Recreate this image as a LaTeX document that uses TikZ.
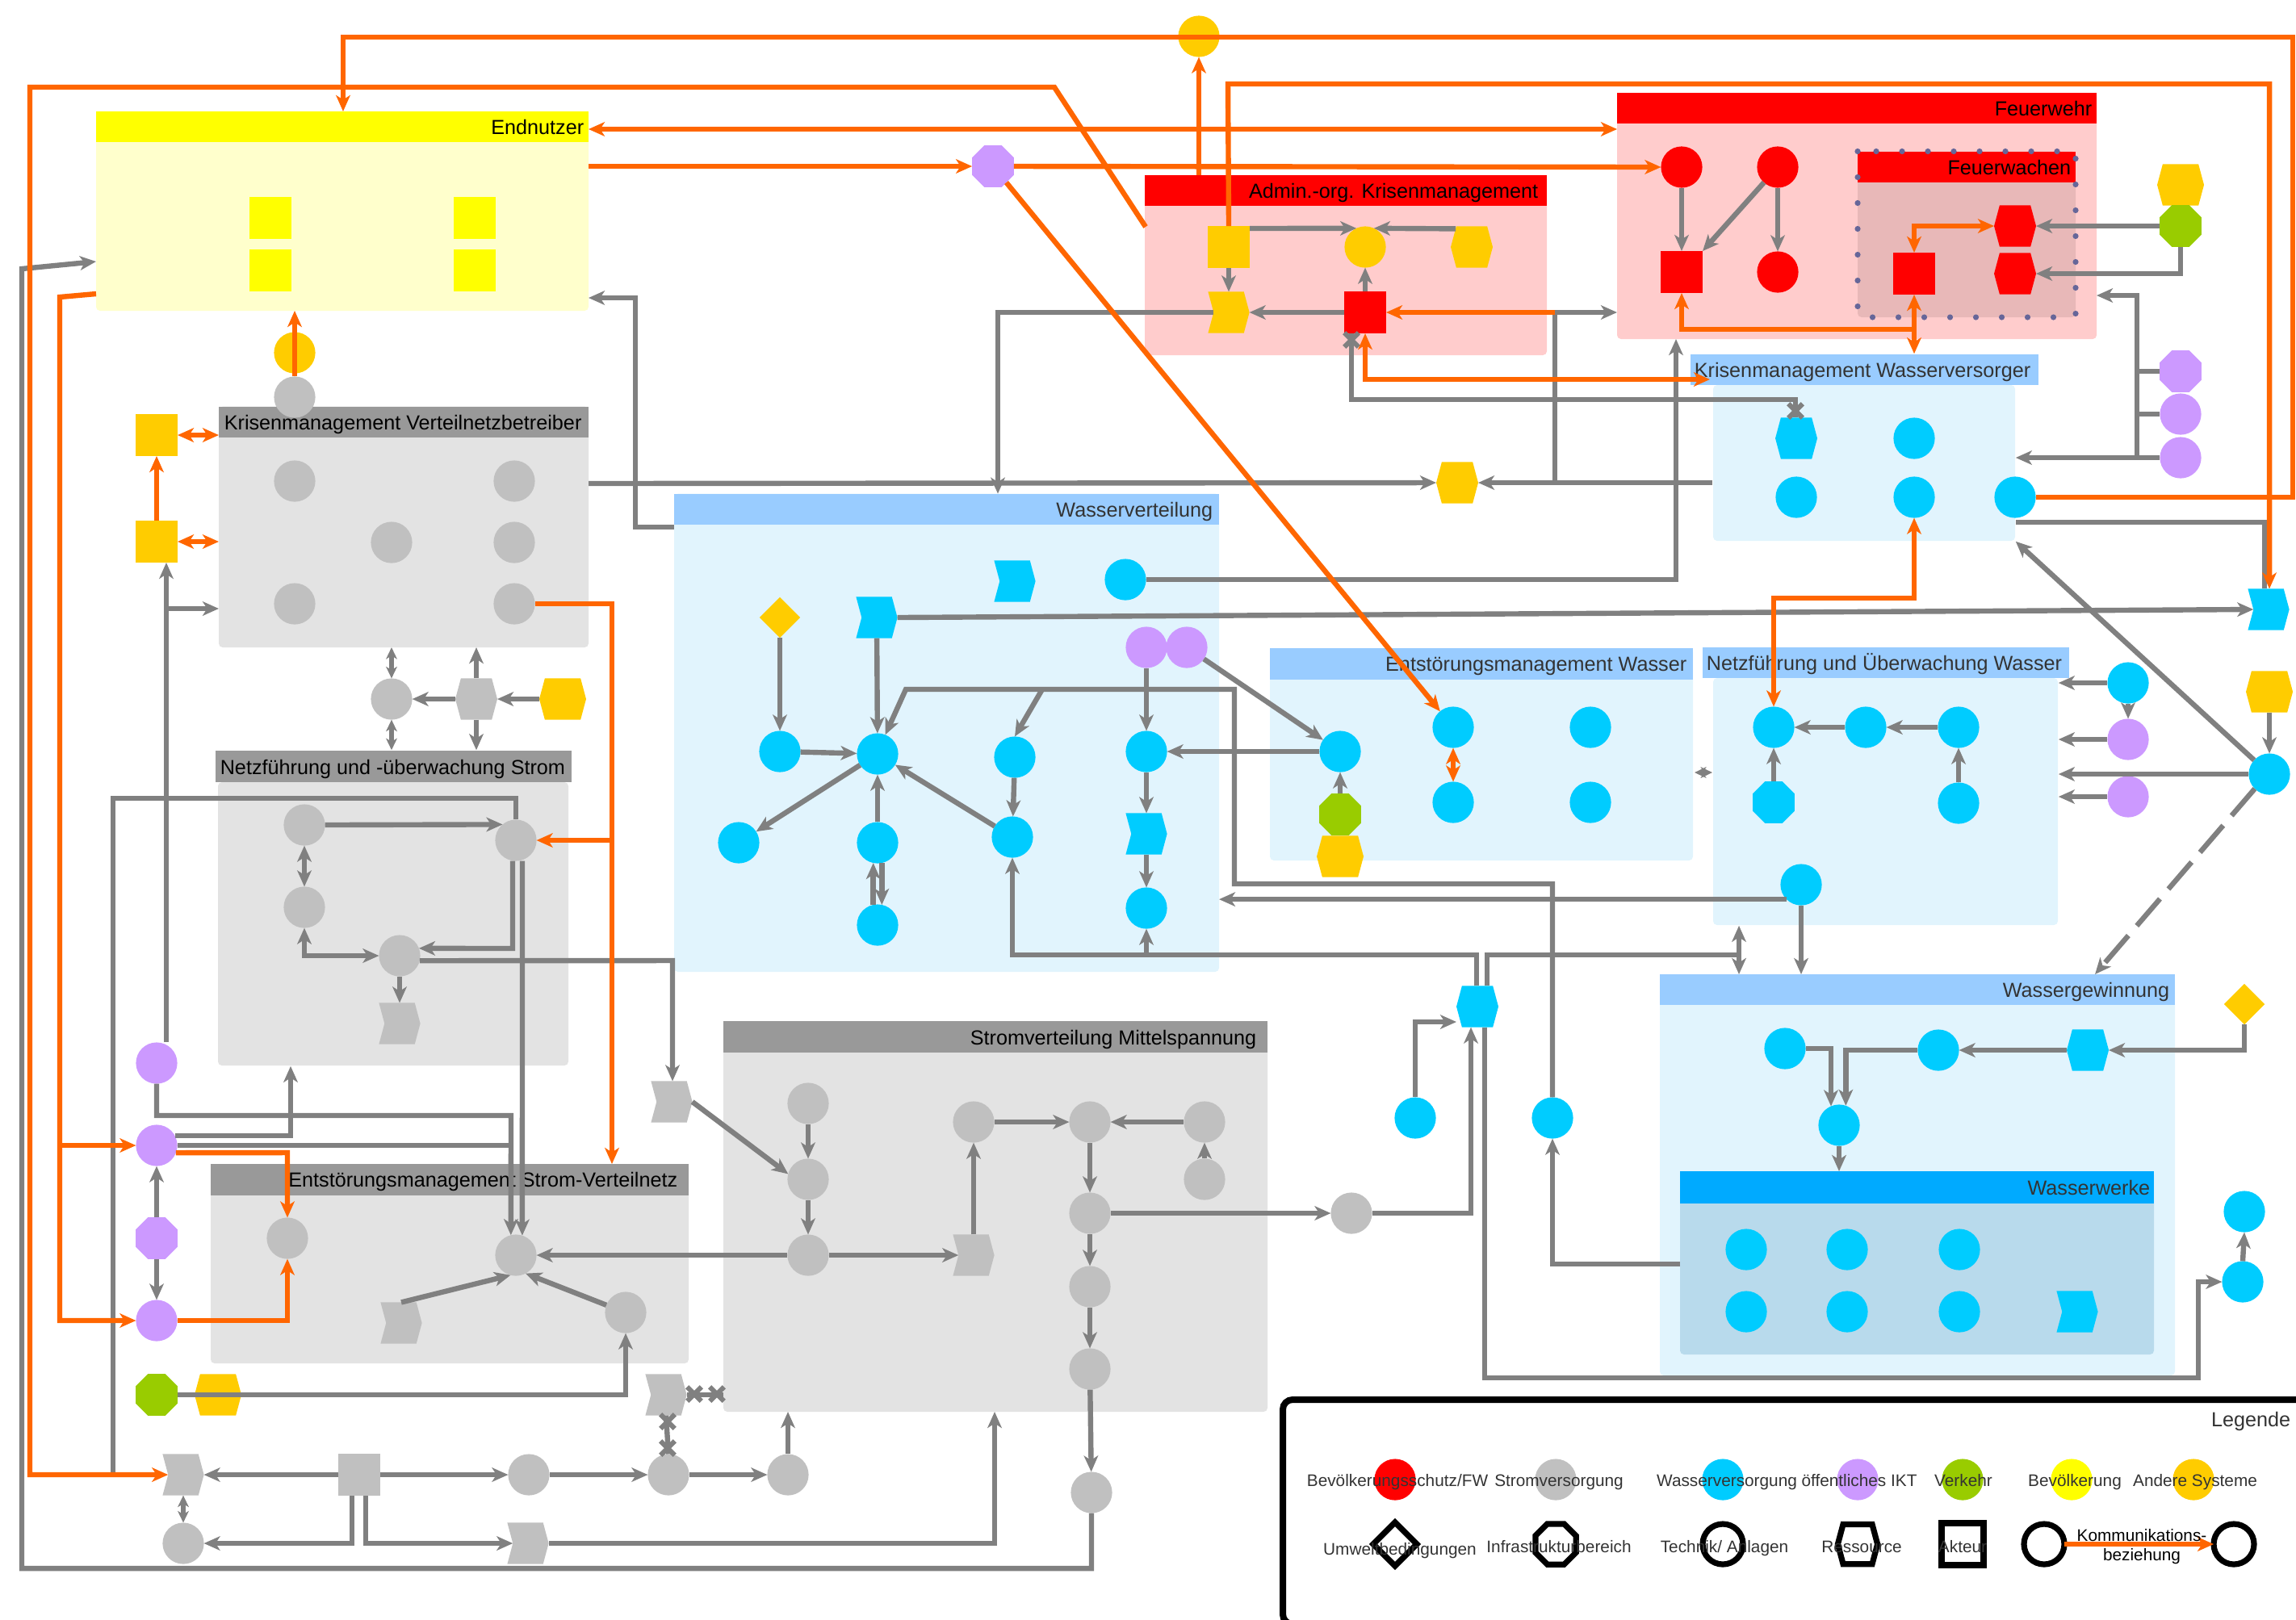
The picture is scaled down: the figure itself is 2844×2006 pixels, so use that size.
\documentclass[tikz,border=0pt]{standalone}
\usepackage{fontspec}
\setmainfont{Liberation Sans}
\usetikzlibrary{shapes.geometric,shapes.symbols,shapes.misc,arrows.meta,fit,calc}
\definecolor{lgray}{HTML}{808080}
\definecolor{ngray}{HTML}{C0C0C0}
\definecolor{hgray}{HTML}{999999}
\definecolor{bgray}{HTML}{E3E3E3}
\definecolor{orl}{HTML}{FF6600}
\definecolor{cyn}{HTML}{00CCFF}
\definecolor{hblue}{HTML}{99CCFF}
\definecolor{bblue}{HTML}{E1F4FD}
\definecolor{pur}{HTML}{CC99FF}
\definecolor{grn}{HTML}{99CC00}
\definecolor{yel}{HTML}{FFFF00}
\definecolor{byel}{HTML}{FFFFCC}
\definecolor{ora}{HTML}{FFCC00}
\definecolor{rd}{HTML}{FF0000}
\definecolor{bred}{HTML}{FFCCCC}
\definecolor{fwab}{HTML}{E8B8B8}
\definecolor{dotc}{HTML}{666699}
\definecolor{wwh}{HTML}{00AAFF}
\definecolor{wwb}{HTML}{B8DAEC}
\definecolor{txtg}{HTML}{333333}
\newcommand{\grpbox}[8]{%
  \node[fit={(#2,#3) (#4,#6)},inner sep=0pt,outer sep=0pt,fill=#8,rounded corners=1.2pt] (#1) {};
  \fill[#7] (#2,#3) rectangle (#4,#5);}
\begin{document}
\begin{tikzpicture}[x=0.25pt,y=-0.25pt,
  >={Stealth[length=5pt,width=4.4pt,inset=1.4pt]},
  base/.style={inner sep=0pt,outer sep=0pt},
  tc/.style={base,circle,minimum size=12.8pt},
  ta/.style={base,rectangle,minimum size=13pt},
  ti/.style={base,regular polygon,regular polygon sides=8,minimum size=14pt},
  tr/.style={base,signal,signal to=east and west,signal pointer angle=150,minimum width=13pt,minimum height=12.8pt},
  tro/.style={tr,minimum width=14.5pt},
  tch/.style={base,signal,signal from=west,signal to=east,signal pointer angle=150,minimum width=12.8pt,minimum height=12.8pt},
  tu/.style={base,diamond,aspect=1,minimum size=12.6pt},
  gl/.style={draw=lgray,line width=1.6pt},
  ga/.style={gl,->},
  sm/.style={>={Stealth[length=3.6pt,width=3.4pt,inset=1pt]}},
  ol/.style={draw=orl,line width=1.6pt},
  oa/.style={ol,->},
  oaa/.style={ol,<->},
  xm/.style={base,cross out,draw=lgray,line width=1.5pt,minimum size=4.4pt},
  htxt/.style={inner sep=0pt,font=\fontsize{6.3}{7.5}\selectfont},
  ltxt/.style={inner sep=0pt,text=txtg,font=\fontsize{5.2}{6}\selectfont},
  lo/.style={draw=black,line width=1.8pt,fill=none},
]
\useasboundingbox (0,0) rectangle (2844,2006);
\clip (0,0) rectangle (2844,2006);

% ---------------- groups ----------------
\grpbox{en}{119}{138}{729}{176}{385}{yel}{byel}
\grpbox{kvb}{271}{503.6}{729}{542}{802}{hgray}{bgray}
\node[fit={(270,969) (704,1320)},inner sep=0pt,fill=bgray,rounded corners=1.2pt] (nst) {};
\node[fit={(267,930) (708,969)},inner sep=0pt,fill=hgray] (nsth) {};
\grpbox{esv}{261}{1442}{853}{1480.5}{1689}{hgray}{bgray}
\grpbox{smv}{896}{1265}{1570}{1304}{1749}{hgray}{bgray}
\grpbox{adm}{1418}{217}{1916}{255}{440}{rd}{bred}
\grpbox{fw}{2003}{115}{2597}{153}{420}{rd}{bred}
\grpbox{fwa}{2301}{187.5}{2571}{226}{393}{rd}{fwab}
\draw[dotc,line width=1.8pt,line cap=round,dash pattern=on 0pt off 8pt] (2301,187.5) rectangle (2571,393);
\node[fit={(2122,477) (2496,670)},inner sep=0pt,fill=bblue,rounded corners=1.2pt] (kmw) {};
\node[fit={(2094,439) (2525,477)},inner sep=0pt,fill=hblue] (kmwh) {};
\grpbox{wv}{835}{611.6}{1510}{650}{1204}{hblue}{bblue}
\grpbox{emw}{1573}{803}{2097}{841.5}{1066}{hblue}{bblue}
\node[fit={(2122,840) (2549,1146)},inner sep=0pt,fill=bblue,rounded corners=1.2pt] (nuw) {};
\node[fit={(2109,802) (2563,840)},inner sep=0pt,fill=hblue] (nuwh) {};
\grpbox{wg}{2056}{1207}{2694}{1245}{1704}{hblue}{bblue}
\grpbox{ww}{2081}{1451}{2668}{1490.5}{1678}{wwh}{wwb}

\node[htxt,anchor=base east] (t1) at (724,166) {Endnutzer};
\node[htxt,anchor=base west] (t2) at (277,532) {Krisenmanagement Verteilnetzbetreiber};
\node[htxt,anchor=base west] (t3) at (272,959) {Netzführung und -überwachung Strom};
\node[htxt,anchor=base east] (t4) at (840,1470) {Entstörungsmanagement Strom-Verteilnetz};
\node[htxt,anchor=base east] (t5) at (1557,1294) {Stromverteilung Mittelspannung};
\node[htxt,anchor=base east] (t6) at (1906,245) {Admin.-org. Krisenmanagement};
\node[htxt,anchor=base east] (t7) at (2592,143) {Feuerwehr};
\node[htxt,anchor=base east] (t8) at (2566,216) {Feuerwachen};
\node[htxt,anchor=base west,text=txtg] (t9) at (2098,467) {Krisenmanagement Wasserversorger};
\node[htxt,anchor=base east,text=txtg] (t10) at (1503,640) {Wasserverteilung};
\node[htxt,anchor=base east,text=txtg] (t11) at (2090,831) {Entstörungsmanagement Wasser};
\node[htxt,anchor=base west,text=txtg] (t12) at (2113,830) {Netzführung und Überwachung Wasser};
\node[htxt,anchor=base east,text=txtg] (t13) at (2688,1235) {Wassergewinnung};
\node[htxt,anchor=base east,text=txtg] (t14) at (2664,1480) {Wasserwerke};

% ---------------- nodes ----------------
\node[ta,fill=yel] (ey1) at (335,270) {};
\node[ta,fill=yel] (ey2) at (335,335) {};
\node[ta,fill=yel] (ey3) at (588,270) {};
\node[ta,fill=yel] (ey4) at (588,335) {};
\node[tc,fill=ora] (oc1) at (365,437) {};
\node[tc,fill=ngray] (gc1) at (365,492) {};
\node[ta,fill=ora] (os1) at (194,539) {};
\node[ta,fill=ora] (os2) at (194,671) {};
\node[tc,fill=ngray] (kc1) at (365,596) {};
\node[tc,fill=ngray] (kc2) at (637,596) {};
\node[tc,fill=ngray] (kc3) at (485,672) {};
\node[tc,fill=ngray] (kc4) at (637,672) {};
\node[tc,fill=ngray] (kc5) at (365,748) {};
\node[tc,fill=ngray] (kc6) at (637,748) {};
\node[tc,fill=ngray] (gc2) at (485,866) {};
\node[tr,fill=ngray] (gr1) at (590,866) {};
\node[tro,fill=ora] (or1) at (697,866) {};
\node[tc,fill=ngray] (nc1) at (377,1022) {};
\node[tc,fill=ngray] (nc2) at (639,1041) {};
\node[tc,fill=ngray] (nc3) at (377,1124) {};
\node[tc,fill=ngray] (nc4) at (495,1184) {};
\node[tch,fill=ngray] (nch) at (495,1268) {};
\node[tc,fill=pur] (pc1) at (194,1317) {};
\node[tc,fill=pur] (pc2) at (194,1419) {};
\node[ti,fill=pur] (po1) at (194,1534) {};
\node[tc,fill=pur] (pc3) at (194,1636) {};
\node[tc,fill=ngray] (ec1) at (356,1534) {};
\node[tc,fill=ngray] (ec2) at (639,1555) {};
\node[tc,fill=ngray] (ec3) at (775,1626) {};
\node[tch,fill=ngray] (ech) at (497,1639) {};
\node[ti,fill=grn] (go1) at (194,1728) {};
\node[tro,fill=ora] (or2) at (270,1728) {};
\node[tch,fill=ngray] (bch) at (227,1827) {};
\node[ta,fill=ngray] (bsq) at (445,1827) {};
\node[tc,fill=ngray] (bc1) at (227,1912) {};
\node[tch,fill=ngray] (bch2) at (654,1912) {};
\node[tc,fill=ngray] (bc2) at (655,1827) {};
\node[tc,fill=ngray] (bc3) at (828,1827) {};
\node[tc,fill=ngray] (bc4) at (976,1827) {};
\node[tch,fill=ngray] (bch3) at (825,1728) {};
\node[tch,fill=ngray] (gch) at (832,1365) {};
\node[tc,fill=ngray] (sc1) at (1001,1367) {};
\node[tc,fill=ngray] (sc2) at (1001,1461) {};
\node[tc,fill=ngray] (sc3) at (1001,1555) {};
\node[tch,fill=ngray] (sch) at (1206,1555) {};
\node[tc,fill=ngray] (sc4) at (1206,1390) {};
\node[tc,fill=ngray] (sc5) at (1350,1390) {};
\node[tc,fill=ngray] (sc6) at (1350,1503) {};
\node[tc,fill=ngray] (sc7) at (1350,1594) {};
\node[tc,fill=ngray] (sc8) at (1350,1696) {};
\node[tc,fill=ngray] (sc9) at (1492,1390) {};
\node[tc,fill=ngray] (sc10) at (1492,1461) {};
\node[tc,fill=ngray] (sc11) at (1352,1849) {};
\node[tc,fill=ngray] (gc3) at (1674,1503) {};
% Wasserverteilung
\node[tu,fill=ora] (wd) at (966,765) {};
\node[tch,fill=cyn] (wch1) at (1086,765) {};
\node[tch,fill=cyn] (wch2) at (1257,720) {};
\node[tc,fill=cyn] (wc0) at (1394,718) {};
\node[tc,fill=pur] (wp1) at (1420,802) {};
\node[tc,fill=pur] (wp2) at (1470,802) {};
\node[tc,fill=cyn] (wc1) at (966,931) {};
\node[tc,fill=cyn] (wc2) at (1087,934) {};
\node[tc,fill=cyn] (wc3) at (1257,938) {};
\node[tc,fill=cyn] (wc4) at (1420,931) {};
\node[tc,fill=cyn] (wc5) at (915,1044) {};
\node[tc,fill=cyn] (wc6) at (1087,1044) {};
\node[tc,fill=cyn] (wc7) at (1254,1037) {};
\node[tch,fill=cyn] (wch3) at (1420,1033) {};
\node[tc,fill=cyn] (wc8) at (1087,1146) {};
\node[tc,fill=cyn] (wc9) at (1420,1125) {};
% Admin
\node[ta,fill=ora] (ays) at (1522,306) {};
\node[tc,fill=ora] (ayc) at (1691,306) {};
\node[tr,fill=ora] (ayr) at (1823,306) {};
\node[tch,fill=ora] (aych) at (1522,387) {};
\node[ta,fill=rd] (ars) at (1691,387) {};
\node[tc,fill=ora] (topc) at (1485,45) {};
\node[ti,fill=pur] (pto) at (1230,206) {};
\node[tr,fill=ora] (orh) at (1805,598) {};
% Feuerwehr
\node[tc,fill=rd] (fc1) at (2083,207) {};
\node[ta,fill=rd] (fsq) at (2083,337) {};
\node[tc,fill=rd] (fc2) at (2202,207) {};
\node[tc,fill=rd] (fc3) at (2202,337) {};
\node[ta,fill=rd] (fwsq) at (2371,339) {};
\node[tr,fill=rd] (fwr1) at (2496,280) {};
\node[tr,fill=rd] (fwr2) at (2496,339) {};
\node[tro,fill=ora] (oyr) at (2701,229) {};
\node[ti,fill=grn] (fgo) at (2701,280) {};
\node[ti,fill=pur] (po2) at (2701,460) {};
\node[tc,fill=pur] (pc4) at (2701,513) {};
\node[tc,fill=pur] (pc5) at (2701,567) {};
% KMW
\node[tr,fill=cyn] (kwh) at (2225,543) {};
\node[tc,fill=cyn] (kw1) at (2371,543) {};
\node[tc,fill=cyn] (kw2) at (2225,616) {};
\node[tc,fill=cyn] (kw3) at (2371,616) {};
\node[tc,fill=cyn] (kw4) at (2496,616) {};
\node[tch,fill=cyn] (cch) at (2810,755) {};
% EMW
\node[tc,fill=cyn] (mc1) at (1660,931) {};
\node[tc,fill=cyn] (mc2) at (1800,901) {};
\node[tc,fill=cyn] (mc3) at (1970,901) {};
\node[tc,fill=cyn] (mc4) at (1800,994) {};
\node[tc,fill=cyn] (mc5) at (1970,994) {};
\node[ti,fill=grn] (mgo) at (1660,1009) {};
\node[tro,fill=ora] (mor) at (1660,1061) {};
% NUW
\node[tc,fill=cyn] (nw1) at (2197,901) {};
\node[tc,fill=cyn] (nw2) at (2311,901) {};
\node[tc,fill=cyn] (nw3) at (2426,901) {};
\node[ti,fill=cyn] (nwo) at (2197,994) {};
\node[tc,fill=cyn] (nw4) at (2426,995) {};
\node[tc,fill=cyn] (nw5) at (2231,1096) {};
\node[tc,fill=cyn] (ncc) at (2636,846) {};
\node[tc,fill=pur] (npc1) at (2636,916) {};
\node[tc,fill=pur] (npc2) at (2636,987) {};
\node[tro,fill=ora] (nor) at (2811,857) {};
\node[tc,fill=cyn] (ncc2) at (2811,959) {};
% water lower
\node[tr,fill=cyn] (chx) at (1830,1247) {};
\node[tc,fill=cyn] (cc1) at (1753,1385) {};
\node[tc,fill=cyn] (cc2) at (1923,1385) {};
\node[tc,fill=cyn] (gw1) at (2211,1299) {};
\node[tc,fill=cyn] (gw2) at (2401,1301) {};
\node[tr,fill=cyn] (gwh) at (2586,1301) {};
\node[tu,fill=ora] (gwd) at (2780,1244) {};
\node[tc,fill=cyn] (gw3) at (2278,1394) {};
\node[tc,fill=cyn] (ww1) at (2163,1548) {};
\node[tc,fill=cyn] (ww2) at (2288,1548) {};
\node[tc,fill=cyn] (ww3) at (2427,1548) {};
\node[tc,fill=cyn] (ww4) at (2163,1625) {};
\node[tc,fill=cyn] (ww5) at (2288,1625) {};
\node[tc,fill=cyn] (ww6) at (2427,1625) {};
\node[tch,fill=cyn] (wwch) at (2573,1625) {};
\node[tc,fill=cyn] (oca) at (2778,1588) {};
\node[tc,fill=cyn] (ocb) at (2780,1501) {};

% ---------------- coordinates ----------------
\coordinate (j1) at (1926,598);
\coordinate (j1b) at (1926,387);
\coordinate (j2) at (1291,854);
\coordinate (j3) at (1420,1183);
\coordinate (j4) at (2647,567);
\coordinate (j5) at (206,754);
\coordinate (j6) at (758,1041);
\coordinate (j7) at (74,1419);
\coordinate (kmwin) at (2118,470);
\coordinate (sa) at (2099,957);
\coordinate (sb) at (2121,957);

% ---------------- gray connectors ----------------
\draw[ga] (sc11.south) -- (1352,1943) -- (27,1943) -- (27,333) -- (en.west |- 0,324);
\draw[ga] (wv.west |- 0,653) -- (787,653) -- (787,369) -- (en.east |- 0,369);
\draw[ga] (kvb.east |- 0,599) -- (orh.west);
\draw[ga] (aych.west) -- (1236,387) -- (1236,0 |- wv.north);
\draw[ga] (ays.north east) ++(0,3) -- (ayc.115);
\draw[ga] (ayr.north) ++(-20,3) -- (ayc.65);
\draw[ga] (ays.south) -- (aych.north);
\draw[ga] (ars.north) -- (ayc.south);
\draw[ga] (ars.west) -- (aych.east);
\draw[gl] (1674,0 |- ars.south) -- (1674,495) -- (2224,495) -- (2224,0 |- kwh.north);
\node[xm] (xa) at (1674,421) {};
\node[xm] (xb) at (2224,509) {};
\draw[ga] (kmw.west |- orh) -- (orh.east);
\draw[ga] (j1) -- (j1b) -- (fw.west |- j1b);
\draw[ga] (wc0.east) -- (2076,0 |- wc0) -- (2076,0 |- fw.south);
\draw[ga] (fc1) -- (fsq);
\draw[ga] (fc2) -- (fc3);
\draw[ga] (fc2) -- (fsq.north east);
\draw[ga] (fgo.west) -- (fwr1.east);
\draw[ga] (fgo.south) |- (fwr2.east);
\draw[gl] (po2.west) -- (2647,0 |- po2);
\draw[gl] (pc4.west) -- (2647,0 |- pc4);
\draw[ga] (pc5.west) -- (kmw.east |- pc5);
\draw[ga] (j4) -- (2647,366) -- (fw.east |- 0,366);
\draw[gl] (kmw.east |- 0,647) -- (2805,647) -- (2805,0 |- cch.north);
\draw[ga] (ncc2) -- (kmw.south east);
\draw[ga] (wch1.east) -- (cch.west);
\draw[ga] (wd) -- (wc1);
\draw[ga] (wc1) -- (wc2);
\draw[ga] (wch1) -- (wc2);
\draw[ga] (wc2) -- (wc5);
\draw[ga] (wc6) -- (wc2);
\draw[ga] (wc8.102) -- (wc6.258);
\draw[ga] (wc6.282) -- (wc8.78);
\draw[ga] (wc7) -- (wc2);
\draw[ga] (wc3) -- (wc7);
\draw[ga] (wp1) -- (wc4);
\draw[ga] (wc4) -- (wch3);
\draw[ga] (wch3) -- (wc9);
\draw[ga] (mc1) -- (wc4);
\draw[ga] (cc2.north) -- (1923,1095) -- (1529,1095) -- (1529,854) -- (1122,854) -- (wc2.68);
\draw[ga] (j2) -- (wc3.north);
\draw[ga] (wp2) -- (mc1);
\draw[ga] (1829,0 |- chx.north) -- (1829,1183) -- (wc7.south |- 0,1183) -- (wc7.south);
\draw[ga] (j3) -- (wc9.south);
\draw[gl] (1842,0 |- chx.north) -- (1842,1183) -- (2154,1183);
\draw[gl,<->] (2154,0 |- nuw.south) -- (2154,0 |- wg.north);
\draw[ga] (cc1.north) -- (1753,1266) -- (chx.west |- 0,1266);
\draw[ga] (gc3.east) -- (1822,1503) -- (1822,0 |- chx.south);
\draw[ga] (1839,0 |- chx.south) -- (1839,1707) -- (2723,1707) -- (2723,1588) -- (oca.west);
\draw[ga] (oca.north) -- (ocb.south);
\draw[ga] (ww.west |- 0,1566) -- (1923,1566) -- (cc2.south);
\draw[ga] (nw5.south west) -- (wv.east |- nw5.south west);
\draw[ga] (nw5.south) -- (nw5.south |- wg.north);
\draw[ga] (nw3) -- (nw2);
\draw[ga] (nw2) -- (nw1);
\draw[ga] (nwo) -- (nw1);
\draw[ga] (nw4) -- (nw3);
\draw[ga] (ncc) -- (npc1);
\draw[ga] (ncc.west) -- (nuw.east |- ncc.west);
\draw[ga] (npc1.west) -- (nuw.east |- npc1.west);
\draw[ga] (npc2.west) -- (nuw.east |- npc2.west);
\draw[ga] (ncc2.west) -- (nuw.east |- ncc2.west);
\draw[ga] (nor.south) -- (ncc2.north);
\draw[ga,dash pattern=on 11pt off 4pt] (ncc2.south west) -- (2595,0 |- wg.north);
\draw[ga] (gwd.south) |- (gwh.east);
\draw[ga] (gwh.west) -- (gw2.east);
\draw[ga] (gw1.east) -| (gw3.113);
\draw[ga] (gw2.west) -| (gw3.71);
\draw[ga] (gw3.south) -- (gw3.south |- ww.north);
\draw[ga] (mgo) -- (mc1);
\draw[gl,sm,<->] (sa) -- (sb);
% strom
\draw[gl,sm,<->] (gc2.north) -- (gc2.north |- kvb.south);
\draw[gl,sm,<->] (gc2.south) -- (gc2.south |- nsth.north);
\draw[ga] (gr1.north) -- (gr1.north |- kvb.south);
\draw[ga] (gr1.south) -- (gr1.south |- nsth.north);
\draw[ga] (gr1.west) -- (gc2.east);
\draw[ga] (or1.west) -- (gr1.east);
\draw[ga] (206,0 |- pc1.north) -- (206,0 |- os2.south);
\draw[ga] (j5) -- (kvb.west |- j5);
\draw[ga] (nc1.east) -- (nc2.130);
\draw[gl,<->] (nc1) -- (nc3);
\draw[gl,<->] (nc3.south) |- (nc4.west);
\draw[ga] (635,0 |- nc2.south) -- (635,1175) -- (nc4.21);
\draw[ga] (nc4.south) -- (nch.north);
\draw[ga] (nc4.-14) -- (833,1190) -- (833,0 |- gch.north);
\draw[ga] (647,0 |- nc2.south) -- (ec2.72);
\draw[gl] (nc2.north) -- (639,989) -- (140,989) -- (140,1827);
\draw[ga] (pc1.south) -- (194,1382) -- (633,1382) -- (ec2.104);
\draw[gl] (pc2.east) -- (633,0 |- pc2.east);
\draw[ga] (pc2.28) -- (360,0 |- pc2.28) -- (360,0 |- nst.south);
\draw[ga] (po1.north) -- (pc2.south);
\draw[ga] (po1.south) -- (pc3.north);
\draw[ga] (ech.north) -- (ec2.255);
\draw[ga] (ec3.159) -- (ec2.298);
\draw[ga] (sc3.west) -- (ec2.east);
\draw[ga] (go1.east) -| (ec3.south);
\draw[ga] (bsq.west) -- (bch.east);
\draw[ga] (bsq.east) -- (bc2.west);
\draw[ga] (436,0 |- bsq.south) -- (436,1912) -- (bc1.east);
\draw[ga] (453,0 |- bsq.south) -- (453,1912) -- (bch2.west);
\draw[gl,sm,<->] (bch.south) -- (bc1.north);
\draw[ga] (bch2.east) -- (1232,1912) -- (1232,0 |- smv.south);
\draw[ga] (bc2) -- (bc3);
\draw[ga] (bc3) -- (bc4);
\draw[ga] (bc4.north) -- (bc4.north |- smv.south);
\draw[gl] (bch3.east) -- (smv.west |- bch3.east);
\draw[gl] (bch3.south) -- (bc3.north);
\node[xm] (xc) at (860,1727) {};
\node[xm] (xd) at (888,1727) {};
\node[xm] (xe) at (827,1761) {};
\node[xm] (xf) at (827,1794) {};
\draw[ga] (gch.east) -- (sc2.165);
\draw[ga] (sc1) -- (sc2);
\draw[ga] (sc2) -- (sc3);
\draw[ga] (sc3) -- (sch);
\draw[ga] (sch) -- (sc4);
\draw[ga] (sc4) -- (sc5);
\draw[ga] (sc9) -- (sc5);
\draw[ga] (sc10) -- (sc9);
\draw[ga] (sc5) -- (sc6);
\draw[ga] (sc6) -- (sc7);
\draw[ga] (sc7) -- (sc8);
\draw[ga] (sc8) -- (sc11);
\draw[ga] (sc6.east) -- (gc3.west);

% ---------------- orange connectors ----------------
\draw[oa] (kw4.east) -- (2840,616) -- (2840,46) -- (425,46) -- (425,0 |- en.north);
\draw[oa] ($(adm.north west)+(1,64)$) -- (1306,108) -- (37,108) -- (37,1827) -- (bch.west);
\draw[oaa] (en.east |- 0,160) -- (fw.west |- 0,160);
\draw[oa] (en.east |- pto) -- (pto.west);
\draw[oa] (pto.east) -- (fc1.west);
\draw[oa] (pto) -- (mc2);
\draw[oa] (1485,0 |- adm.north) -- (topc.south);
\draw[oa] (ays.north) -- (1521,104) -- (2811,104) -- (2811,0 |- cch.north);
\draw[oa] (j1b) -- (ars.east);
\draw[oaa] (ars.south) -- (1691,470) -- (kmwin);
\draw[ol,<-] (fsq.south) -- (2083,408) -- (2371,408);
\draw[oaa] (fwsq.south) -- (fwsq.south |- kmwh.north);
\draw[oaa] (fwsq.north) |- (fwr1.west);
\draw[oaa] (kw3.south) -- (2371,741) -- (2197,741) -- (nw1.north);
\draw[oaa] (mc2) -- (mc4);
\draw[oa] (gc1.north) -- (gc1.north |- en.south);
\draw[oa] (os2.north) -- (os1.south);
\draw[oaa] (os1.east) -- (kvb.west |- os1.east);
\draw[oaa] (os2.east) -- (kvb.west |- os2.east);
\draw[oa] (kc6.east) -- (758,748) -- (758,0 |- esv.north);
\draw[oa] (j6) -- (nc2.east);
\draw[oa] (en.west |- 0,364) -- (74,368) -- (74,1636) -- (pc3.west);
\draw[oa] (j7) -- (pc2.west);
\draw[oa] (pc2.-21) -- (356,1428) -- (ec1.north);
\draw[oa] (pc3.east) -| (ec1.south);

% ---------------- legend ----------------
\draw[line width=2pt,rounded corners=3pt] (1589,1734) rectangle (2860,2012);
\node[htxt,anchor=base east,text=txtg] (lgt) at (2838,1767) {Legende};
\node[tc,fill=rd] (l1) at (1728,1833) {};
\node[tc,fill=ngray] (l2) at (1927,1833) {};
\node[tc,fill=cyn] (l3) at (2134,1833) {};
\node[tc,fill=pur] (l4) at (2301,1833) {};
\node[tc,fill=grn] (l5) at (2431,1833) {};
\node[tc,fill=yel] (l6) at (2566,1833) {};
\node[tc,fill=ora] (l7) at (2717,1833) {};
\node[ltxt,anchor=base] (lt1) at (1731,1841) {Bevölkerungsschutz/FW};
\node[ltxt,anchor=base] (lt2) at (1931,1841) {Stromversorgung};
\node[ltxt,anchor=base] (lt3) at (2139,1841) {Wasserversorgung};
\node[ltxt,anchor=base] (lt4) at (2303,1841) {öffentliches IKT};
\node[ltxt,anchor=base] (lt5) at (2432,1841) {Verkehr};
\node[ltxt,anchor=base] (lt6) at (2570,1841) {Bevölkerung};
\node[ltxt,anchor=base] (lt7) at (2719,1841) {Andere Systeme};
\node[tu,lo,minimum size=13.5pt] (l8) at (1728,1913) {};
\node[ti,lo,minimum size=13.6pt] (l9) at (1927,1913) {};
\node[tc,lo,minimum size=12.5pt] (l10) at (2134,1913) {};
\node[tr,lo,minimum width=12.3pt,minimum height=12.3pt] (l11) at (2301,1913) {};
\node[ta,lo,minimum size=13pt] (l12) at (2431,1913) {};
\node[tc,lo,minimum size=12.5pt] (l13) at (2532,1913) {};
\node[tc,lo,minimum size=12.5pt] (l14) at (2767,1913) {};
\draw[ol,->,line width=1.3pt] (l13.east) -- (l14.west);
\node[ltxt,anchor=base] (lt8) at (1734,1926) {Umweltbedingungen};
\node[ltxt,anchor=base] (lt9) at (1931,1923) {Infrastrukturbereich};
\node[ltxt,anchor=base] (lt10) at (2136,1923) {Technik/ Anlagen};
\node[ltxt,anchor=base] (lt11) at (2306,1923) {Ressource};
\node[ltxt,anchor=base] (lt12) at (2431,1923) {Akteur};
\node[ltxt,anchor=base,text=black] (lt13) at (2653,1909) {Kommunikations-};
\node[ltxt,anchor=base,text=black] (lt14) at (2653,1933) {beziehung};
\end{tikzpicture}
\end{document}
